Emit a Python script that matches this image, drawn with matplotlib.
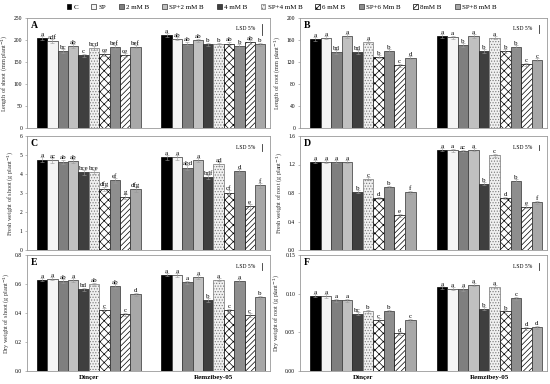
import numpy as np
import matplotlib.pyplot as plt
from matplotlib.patches import Patch

plt.rcParams['font.family'] = 'serif'
plt.rcParams['font.serif'] = ['Liberation Serif', 'DejaVu Serif']
plt.rcParams['hatch.linewidth'] = 0.5

treatments = ["C", "SP", "2 mM B", "SP+2 mM B", "4 mM B", "SP+4 mM B",
              "6 mM B", "SP+6 Mm B", "8mM B", "SP+8 mM B"]
cultivars = ["Dinçer", "Remzibey-05"]

# A - length of shoot
shoot_len_d = [204, 198, 175, 186, 165, 182, 168, 184, 166, 185]
shoot_len_r = [211, 203, 192, 199, 190, 190, 192, 186, 195, 190]
shoot_len_let_d = ["a", "adf", "bc", "ab", "c", "bcd", "ce", "bef", "ce", "bef"]
shoot_len_let_r = ["a", "ab", "ab", "ab", "b", "b", "ab", "b", "ab", "b"]

# B - length of root
root_len_d = [162, 164, 138, 167, 138, 157, 130, 140, 114, 128]
root_len_r = [167, 165, 151, 167, 140, 164, 140, 148, 116, 124]
root_len_let_d = ["a", "a", "bd", "a", "bd", "a", "b", "b", "c", "d"]
root_len_let_r = ["a", "a", "b", "a", "b", "a", "b", "b", "c", "c"]

# C - fresh weight of shoot
shoot_fw_d = [4.75, 4.72, 4.64, 4.68, 4.09, 4.10, 3.22, 3.66, 2.81, 3.19]
shoot_fw_r = [4.88, 4.88, 4.34, 4.74, 3.84, 4.53, 3.02, 4.14, 2.29, 3.40]
shoot_fw_let_d = ["a", "ac", "ab", "ab", "bce", "bce", "dfg", "ef", "g", "dfg"]
shoot_fw_let_r = ["a", "a", "abd", "a", "bdf", "ad", "cf", "d", "e", "f"]

# D - fresh weight of root
root_fw_d = [1.24, 1.24, 1.24, 1.24, 0.82, 1.00, 0.73, 0.88, 0.49, 0.81]
root_fw_r = [1.41, 1.40, 1.39, 1.41, 0.93, 1.33, 0.73, 0.97, 0.61, 0.67]
root_fw_let_d = ["a", "a", "a", "a", "b", "c", "d", "b", "e", "f"]
root_fw_let_r = ["a", "a", "ac", "a", "b", "c", "d", "b", "e", "f"]

# E - dry weight of shoot
shoot_dw_d = [0.63, 0.637, 0.62, 0.626, 0.563, 0.598, 0.423, 0.587, 0.39, 0.529]
shoot_dw_r = [0.665, 0.663, 0.612, 0.647, 0.49, 0.63, 0.418, 0.62, 0.385, 0.508]
shoot_dw_let_d = ["a", "a", "ab", "a", "bd", "ab", "c", "ab", "c", "d"]
shoot_dw_let_r = ["a", "a", "a", "a", "b", "a", "c", "a", "c", "b"]

# F - dry weight of root
root_dw_d = [0.0974, 0.097, 0.0916, 0.0916, 0.074, 0.0775, 0.066, 0.0775, 0.0485, 0.0656]
root_dw_r = [0.108, 0.1066, 0.106, 0.1115, 0.0806, 0.109, 0.077, 0.094, 0.0555, 0.0564]
root_dw_let_d = ["a", "a", "a", "a", "bc", "b", "c", "b", "d", "c"]
root_dw_let_r = ["a", "a", "a", "a", "b", "a", "b", "c", "d", "d"]

# typical standard error and LSD 5% per panel
panel_err = [4, 3, 0.12, 0.02, 0.012, 0.002]
panel_lsd = [25, 14, 0.4, 0.06, 0.05, 0.009]

panels = [
    ("A", "Length of shoot (mm plant$^{-1}$)", shoot_len_d, shoot_len_r, shoot_len_let_d, shoot_len_let_r,
     [0, 50, 100, 150, 200, 250], ["0", "50", "100", "150", "200", "250"]),
    ("B", "Length of root (mm plant$^{-1}$)", root_len_d, root_len_r, root_len_let_d, root_len_let_r,
     [0, 40, 80, 120, 160, 200], ["0", "40", "80", "120", "160", "200"]),
    ("C", "Fresh weight of shoot (g plant$^{-1}$)", shoot_fw_d, shoot_fw_r, shoot_fw_let_d, shoot_fw_let_r,
     [0, 1, 2, 3, 4, 5, 6], ["0", "1", "2", "3", "4", "5", "6"]),
    ("D", "Fresh weight of root (g plant$^{-1}$)", root_fw_d, root_fw_r, root_fw_let_d, root_fw_let_r,
     [0, 0.4, 0.8, 1.2, 1.6], ["0.0", "0.4", "0.8", "1.2", "1.6"]),
    ("E", "Dry weight of shoot (g plant$^{-1}$)", shoot_dw_d, shoot_dw_r, shoot_dw_let_d, shoot_dw_let_r,
     [0, 0.2, 0.4, 0.6, 0.8], ["0.0", "0.2", "0.4", "0.6", "0.8"]),
    ("F", "Dry weight of root (g plant$^{-1}$)", root_dw_d, root_dw_r, root_dw_let_d, root_dw_let_r,
     [0, 0.05, 0.10, 0.15], ["0.00", "0.05", "0.10", "0.15"]),
]

# bar styles: facecolor, hatch, edgecolor
styles = [
    ("#000000", None, "#000000"),
    ("#f4f4f4", None, "#333333"),
    ("#7f7f7f", None, "#333333"),
    ("#c0c0c0", None, "#333333"),
    ("#3f3f3f", None, "#222222"),
    ("#f0f0f0", "......", "#777777"),
    ("#ffffff", "xxxx", "#000000"),
    ("#8e8e8e", None, "#333333"),
    ("#ffffff", "//////", "#000000"),
    ("#a8a8a8", None, "#333333"),
]

W, H = 550, 384
fig = plt.figure(figsize=(5.5, 3.84), dpi=100)

# axes boxes in pixels: left, top, right, bottom
cols = [(27, 270), (300, 547)]
rows = [(18, 128), (136, 250), (255, 371)]

x1 = np.arange(10)
x2 = np.arange(10) + 12

for k, (lab, ylab, vd, vr, ld, lr, yt, ytl) in enumerate(panels):
    r, c = divmod(k, 2)
    l, rr = cols[c]
    t, b = rows[r]
    ax = fig.add_axes([l / W, 1 - b / H, (rr - l) / W, (b - t) / H])
    ymax = yt[-1]
    err = panel_err[k]
    for i in range(10):
        fc, hatch, ec = styles[i]
        for xpos, v in ((x1[i], vd[i]), (x2[i], vr[i])):
            ax.bar(xpos, v, width=1.0, color=fc, edgecolor=ec, hatch=hatch, linewidth=0.5)
            ax.errorbar(xpos, v, yerr=err, color="#999999", elinewidth=0.4,
                        capsize=1.2, capthick=0.4, fmt="none")
        ax.text(x1[i], vd[i] + err * 0.6, ld[i], ha="center", va="bottom", fontsize=5)
        ax.text(x2[i], vr[i] + err * 0.6, lr[i], ha="center", va="bottom", fontsize=5)
    ax.set_xlim(-1.45, 21.95)
    ax.set_ylim(0, ymax)
    ax.set_yticks(yt)
    ax.set_yticklabels(ytl)
    ax.set_ylabel(ylab, fontsize=4.5, color="#333333", labelpad=3)
    ax.tick_params(axis="y", labelsize=4, length=1.5, width=0.4, color="#888888", pad=2)
    if r == 2:
        ax.set_xticks([4.5, 16.5])
        ax.set_xticklabels(cultivars, fontsize=5, fontweight="bold")
        ax.tick_params(axis="x", length=0, pad=3)
    else:
        ax.set_xticks([])
    for sp in ax.spines.values():
        sp.set_color("#999999")
        sp.set_linewidth(0.6)
    ax.text(0.015, 0.97, lab, transform=ax.transAxes, ha="left", va="top",
            fontsize=7, fontweight="bold")
    ax.text(0.94, 0.9, "LSD 5%", transform=ax.transAxes, ha="right", va="center", fontsize=4)
    ax.plot([21.2, 21.2], [ymax * 0.9 - panel_lsd[k] / 2, ymax * 0.9 + panel_lsd[k] / 2],
            color="#333333", linewidth=0.6)

handles = [Patch(facecolor=s[0], hatch=s[1], edgecolor=s[2], linewidth=0.5) for s in styles]
fig.legend(handles, treatments, loc="center", bbox_to_anchor=(0.512, 1 - 7 / H), ncol=10,
           frameon=False, fontsize=5, handlelength=0.7, handleheight=0.7,
           handletextpad=0.3, columnspacing=1.9)

fig.savefig("out.png", dpi=100)
